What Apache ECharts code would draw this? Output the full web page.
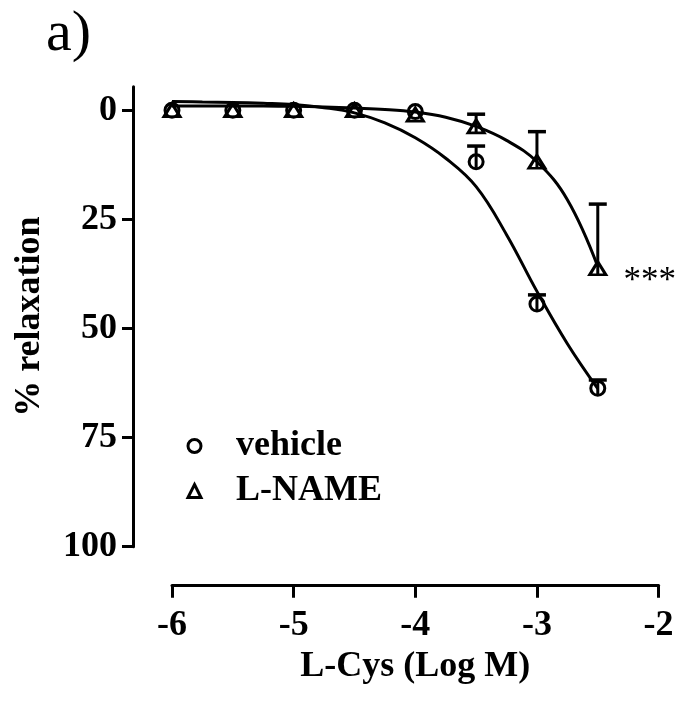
<!DOCTYPE html>
<html>
<head>
<meta charset="utf-8">
<script src="https://cdn.jsdelivr.net/npm/echarts@6/dist/echarts.min.js"></script>
<style>
html,body{margin:0;padding:0;background:#fff;}
#chart{width:677px;height:702px;}
</style>
</head>
<body>
<div id="chart"></div>
<script>
// ---- data ----
const doseLogM = [-6, -5.5, -5, -4.5, -4, -3.5, -3, -2.5];
const vehicleMean = [0, 0, 0, 0, 0.3, 11.8, 44.4, 63.7];
const vehicleSem  = [0, 0, 0, 0, 0, 3.6, 2.1, 1.9];
const lnameMean   = [0, 0, 0, 0, 1.0, 3.7, 11.8, 36.2];
const lnameSem    = [0, 0, 0, 0, 0, 2.8, 6.9, 14.7];

const fitX       = [-6, -5.75, -5.5, -5.25, -5, -4.75, -4.5, -4.25, -4, -3.75, -3.5, -3.25, -3, -2.75, -2.5];
const vehicleFit = [-2.0, -1.9, -1.8, -1.6, -1.3, -0.6, 0.6, 2.9, 6.3, 11, 17.5, 28.5, 41.5, 53.5, 63.8];
const lnameFit   = [-1.0, -1.0, -1.0, -0.95, -0.9, -0.75, -0.5, -0.2, 0.4, 1.6, 3.7, 6.9, 11.8, 20.5, 35.8];

const yTicks = [0, 25, 50, 75, 100];
const xTickInterval = 1;

const FONT = '"Liberation Serif", "Times New Roman", serif';
const chart = echarts.init(document.getElementById('chart'));

function pairs(xs, ys) { return xs.map((x, i) => [x, ys[i]]); }
function errData(xs, m, s) { return xs.map((x, i) => [x, m[i], s[i]]); }

function errRender(params, api) {
  const x = api.value(0), m = api.value(1), s = api.value(2);
  if (!(s > 0)) return null;
  const p0 = api.coord([x, m]);
  const p1 = api.coord([x, m - s]);
  return {
    type: 'group',
    children: [
      {type: 'line', shape: {x1: p0[0], y1: p0[1] + 6, x2: p1[0], y2: p1[1]}, style: {stroke: '#000', lineWidth: 3}},
      {type: 'line', shape: {x1: p1[0] - 9, y1: p1[1], x2: p1[0] + 9, y2: p1[1]}, style: {stroke: '#000', lineWidth: 3.5}}
    ]
  };
}

const markerStyle = {color: 'rgba(255,255,255,0)', borderColor: '#000', borderWidth: 3, opacity: 1};
const textBase = {fontFamily: FONT, fontWeight: 'bold', fontSize: 36, color: '#000'};

const lnamePoints = pairs(doseLogM, lnameMean).map((p, i, arr) => {
  if (i === arr.length - 1) {
    return {value: p, label: {show: true, position: 'right', distance: 16, offset: [0, 14], formatter: '***',
      fontFamily: FONT, fontSize: 35, fontWeight: 'normal', color: '#000', opacity: 1}};
  }
  return {value: p};
});

const option = {
  animation: false,
  backgroundColor: '#fff',
  grid: {left: 172, right: 18.4, top: 86.7, bottom: 155.3},
  xAxis: {
    type: 'value', min: -6, max: -2, interval: xTickInterval, offset: 39,
    axisLine: {onZero: false, lineStyle: {color: '#000', width: 3}},
    axisTick: {length: 12, lineStyle: {color: '#000', width: 3}},
    axisLabel: Object.assign({margin: 22}, textBase),
    splitLine: {show: false},
    name: 'L-Cys (Log M)', nameLocation: 'middle', nameGap: 56,
    nameTextStyle: Object.assign({}, textBase)
  },
  yAxis: {
    type: 'value', inverse: true, min: -5.4, max: 100, offset: 39,
    axisLine: {show: true, onZero: false, lineStyle: {color: '#000', width: 3}},
    axisTick: {show: true, customValues: yTicks, length: 11, lineStyle: {color: '#000', width: 3}},
    axisLabel: Object.assign({customValues: yTicks, margin: 16}, textBase),
    splitLine: {show: false},
    name: '% relaxation', nameLocation: 'middle', nameGap: 85, nameRotate: 90,
    nameTextStyle: Object.assign({}, textBase)
  },
  legend: {
    orient: 'vertical', left: 186.5, top: 426, itemGap: 5, padding: 0,
    itemWidth: 13, itemHeight: 13,
    textStyle: Object.assign({lineHeight: 40, padding: [0, 0, 0, 30]}, textBase),
    data: [
      {name: 'vehicle', icon: 'circle', itemStyle: {color: 'rgba(255,255,255,0)', borderColor: '#000', borderWidth: 3, opacity: 1}},
      {name: 'L-NAME', icon: 'triangle', itemStyle: {color: 'rgba(255,255,255,0)', borderColor: '#000', borderWidth: 3, opacity: 1}}
    ],
    selectedMode: false
  },
  graphic: [
    {type: 'text', left: 46, top: 6, style: {text: 'a)', font: '58px ' + FONT, fill: '#000'}}
  ],
  series: [
    {name: 'vehicle fit', type: 'line', data: pairs(fitX, vehicleFit), smooth: 0.4, symbol: 'none',
      lineStyle: {color: '#000', width: 3}, z: 2},
    {name: 'L-NAME fit', type: 'line', data: pairs(fitX, lnameFit), smooth: 0.4, symbol: 'none',
      lineStyle: {color: '#000', width: 3}, z: 2},
    {name: 'vehicle err', type: 'custom', renderItem: errRender, data: errData(doseLogM, vehicleMean, vehicleSem), z: 3},
    {name: 'L-NAME err', type: 'custom', renderItem: errRender, data: errData(doseLogM, lnameMean, lnameSem), z: 3},
    {name: 'vehicle', type: 'scatter', data: pairs(doseLogM, vehicleMean), symbol: 'circle', symbolSize: 14,
      itemStyle: markerStyle, z: 4},
    {name: 'L-NAME', type: 'scatter', data: lnamePoints, symbol: 'triangle', symbolSize: [16, 13],
      itemStyle: markerStyle, z: 4}
  ]
};
chart.setOption(option);
</script>
</body>
</html>
